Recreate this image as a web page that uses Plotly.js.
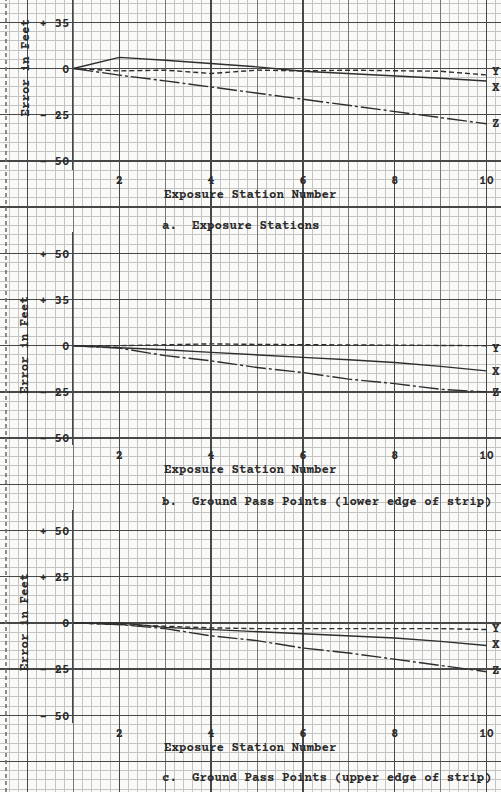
<!DOCTYPE html>
<html>
<head>
<meta charset="utf-8">
<script src="https://cdn.plot.ly/plotly-3.0.1.min.js"></script>
<style>html,body{margin:0;padding:0;background:#fafaf8;}#chart{width:501px;height:792px;}</style>
</head>
<body>
<div id="chart"></div>
<script>
// ---------- DATA ----------
const stations = [1, 2, 3, 4, 5, 6, 7, 8, 9, 10];
const xTickVals = [2, 4, 6, 8, 10];
const xTickText = ["2", "4", "6", "8", "10"];
const seriesNames = ["X", "Y", "Z"];

// a. Exposure Stations
const aX = [0, 6.0, 4.5, 2.7, 0.9, -1.5, -2.7, -4.0, -5.3, -6.8];
const aY = [0, -1.3, -0.9, -2.7, -0.9, -1.3, -0.9, -1.3, -1.5, -3.5];
const aZ = [0, -3.6, -6.7, -10.0, -13.3, -16.9, -20.1, -23.6, -26.7, -29.9];
const aTickVals = [25, 0, -25, -50];
const aTickText = ["+ 35", "0", "- 25", "- 50"];

// b. Ground Pass Points (lower edge of strip)
const bX = [0, -0.9, -2.2, -3.6, -5.1, -6.3, -7.6, -9.1, -11.2, -13.6];
const bY = [0, 0, 0.5, 1.0, 0.7, 0.5, 0.3, 0.3, 0, 0];
const bZ = [0, -1.3, -5.4, -8.2, -11.8, -14.5, -18.1, -20.5, -23.6, -25.0];
const bTickVals = [50, 25, 0, -25, -50];
const bTickText = ["+ 50", "+ 35", "0", "- 25", "- 50"];

// c. Ground Pass Points (upper edge of strip)
const cX = [0, 0, -2.4, -3.6, -4.6, -5.8, -6.9, -8.2, -10.0, -12.2];
const cY = [0, -0.9, -2.2, -2.7, -3.1, -3.1, -3.1, -3.1, -3.1, -3.6];
const cZ = [0, -0.9, -3.1, -7.0, -9.6, -13.6, -16.3, -19.6, -22.7, -26.4];
const cTickVals = [50, 25, 0, -25, -50];
const cTickText = ["+ 50", "+ 25", "0", "- 25", "- 50"];

const yTitle = "Error in Feet";
const xTitle = "Exposure Station Number";
const captions = ["a.  Exposure Stations",
                  "b.  Ground Pass Points (lower edge of strip)",
                  "c.  Ground Pass Points (upper edge of strip)"];

// ---------- LAYOUT GEOMETRY ----------
const W = 501, H = 792;
const X1PX = 73.4, PXX = 45.9, PXY = 46.2;   // px per station, px per 25 ft
const FONT = "'Courier Prime','Nimbus Mono PS','FreeMono','Courier New','Liberation Mono',monospace";
const FS = 12.5;
const INK = "#2a2a2a";
const LINE = "#2e2e2e";
const txtFont = {family: FONT, size: FS, color: INK, weight: 700};

const panels = [
  {X: aX, Y: aY, Z: aZ, tv: aTickVals, tt: aTickText, zero: 68.5, top: 0, bot: 170,
   shifts: [-7, 3, 0], titleY: 195, capY: 226},
  {X: bX, Y: bY, Z: bZ, tv: bTickVals, tt: bTickText, zero: 345.7, top: 232, bot: 445,
   shifts: [-1, -3, -1], titleY: 470, capY: 502},
  {X: cX, Y: cY, Z: cZ, tv: cTickVals, tt: cTickText, zero: 622.9, top: 510, bot: 723,
   shifts: [0, 1, 1], titleY: 748, capY: 778}
];

const dashes = {X: "solid", Y: "5px,3px", Z: "20px,3px,3px,3px"};

const traces = [];
// background graph-paper axes (no visible marks)
traces.push({x: [], y: [], xaxis: "x", yaxis: "y", type: "scatter", mode: "lines", showlegend: false, hoverinfo: "skip"});
traces.push({x: [], y: [], xaxis: "x2", yaxis: "y", type: "scatter", mode: "lines", showlegend: false, hoverinfo: "skip"});

const layout = {
  width: W, height: H, autosize: false,
  margin: {l: 0, r: 0, t: 0, b: 0, pad: 0},
  paper_bgcolor: "#fafaf8", plot_bgcolor: "rgba(0,0,0,0)",
  showlegend: false,
  font: txtFont,
  xaxis: {domain: [0, 1], range: [1 - X1PX / PXX, 1 + (W - X1PX) / PXX], anchor: "y",
    showgrid: true, dtick: 1, tick0: 0, gridcolor: "#777777", gridwidth: 1,
    minor: {dtick: 0.2, tick0: 0, showgrid: true, gridcolor: "#c4c4c4", gridwidth: 1},
    zeroline: false, showticklabels: false, ticks: "", fixedrange: true},
  xaxis2: {overlaying: "x", anchor: "y", range: [1 - X1PX / PXX, 1 + (W - X1PX) / PXX],
    showgrid: true, dtick: 2, tick0: 0, gridcolor: "#484848", gridwidth: 1.4,
    zeroline: false, showticklabels: false, ticks: ""},
  yaxis: {domain: [0, 1], range: [-(H - 68.5) / PXY, 68.5 / PXY], anchor: "x",
    showgrid: true, dtick: 1, tick0: 0, gridcolor: "#484848", gridwidth: 1.4,
    minor: {dtick: 0.2, tick0: 0, showgrid: true, gridcolor: "#c4c4c4", gridwidth: 1},
    zeroline: false, showticklabels: false, ticks: ""},
  shapes: [
    {type: "line", xref: "paper", yref: "paper", x0: 6 / W, x1: 6 / W, y0: 0, y1: 1,
     line: {color: "#6a6a6a", width: 1.5, dash: "4px,3px"}, layer: "above"}
  ],
  annotations: []
};

panels.forEach((p, i) => {
  const n = i + 3;
  const xa = "x" + n, ya = "y" + n;
  const series = {X: p.X, Y: p.Y, Z: p.Z};
  seriesNames.forEach((s, k) => {
    traces.push({
      x: stations, y: series[s], xaxis: xa, yaxis: ya, type: "scatter", mode: "lines",
      line: {color: LINE, width: 1.4, dash: dashes[s]}, showlegend: false, hoverinfo: "skip"
    });
    const vals = series[s];
    layout.annotations.push({
      xref: xa, yref: ya, x: stations[stations.length - 1], y: vals[vals.length - 1],
      xshift: 9, yshift: p.shifts[k], text: s, showarrow: false,
      font: txtFont, xanchor: "center", yanchor: "middle"
    });
  });
  layout["xaxis" + n] = {
    domain: [X1PX / W, 1], range: [1, 1 + (W - X1PX) / PXX], anchor: ya,
    tickvals: xTickVals, ticktext: xTickText, showgrid: false, zeroline: false,
    showline: false, ticks: "", tickfont: txtFont
  };
  layout["yaxis" + n] = {
    domain: [1 - p.bot / H, 1 - p.top / H],
    range: [-(p.bot - p.zero) / PXY * 25, (p.zero - p.top) / PXY * 25], anchor: xa,
    tickvals: p.tv, ticktext: p.tt, showgrid: false, zeroline: false,
    showline: true, linecolor: "#484848", linewidth: 1.4, ticks: "",
    tickfont: txtFont
  };
  layout.annotations.push({
    xref: "paper", yref: "paper", x: 25 / W, y: 1 - p.zero / H, text: yTitle, textangle: -90,
    showarrow: false, font: txtFont, xanchor: "center", yanchor: "middle"
  });
  layout.annotations.push({
    xref: "paper", yref: "paper", x: 162 / W, y: 1 - p.titleY / H, text: xTitle,
    showarrow: false, font: txtFont, xanchor: "left", yanchor: "middle"
  });
  layout.annotations.push({
    xref: "paper", yref: "paper", x: 160 / W, y: 1 - p.capY / H, text: captions[i],
    showarrow: false, font: txtFont, xanchor: "left", yanchor: "middle"
  });
});

Plotly.newPlot("chart", traces, layout, {staticPlot: true, displayModeBar: false});
</script>
</body>
</html>
